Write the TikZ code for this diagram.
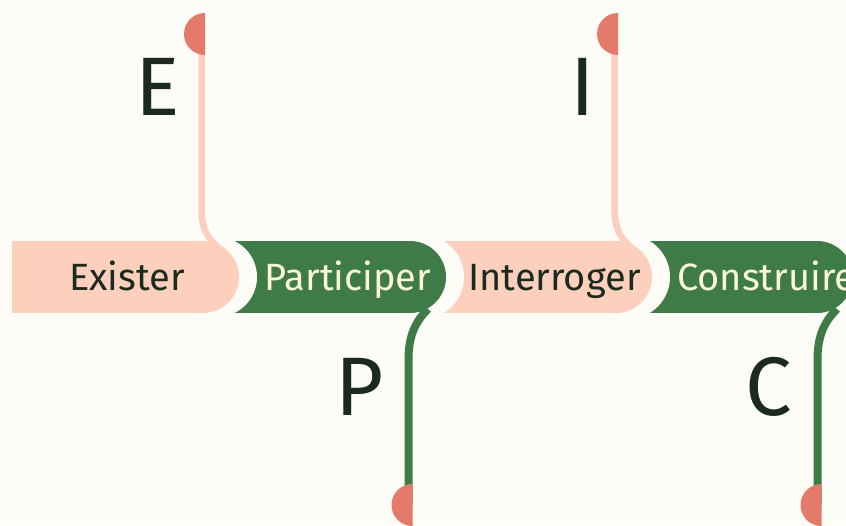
\documentclass[tikz,border=0pt]{standalone}
\usepackage{fontspec}
\setmainfont{Fira Sans}
\definecolor{bg}{HTML}{FEFCF6}
\definecolor{peach}{HTML}{FDD0BE}
\definecolor{leaf}{HTML}{3F7B47}
\definecolor{coral}{HTML}{E47A6A}
\definecolor{ink}{HTML}{1B2A1E}
\definecolor{cream}{HTML}{FBF6D8}
\begin{document}
\begin{tikzpicture}[x=1pt,y=-1pt,
  seglabel/.style={anchor=base, inner sep=0pt, font=\fontsize{38}{42}\selectfont},
  biglabel/.style={anchor=base, inner sep=0pt, text=ink, font=\fontsize{83}{90}\selectfont},
  gapdisc/.style={fill=bg},
  peachline/.style={draw=peach, line width=6.5pt},
  leafline/.style={draw=leaf, line width=8pt}]
\fill[bg] (0,0) rectangle (846,525);
\useasboundingbox (0,0) rectangle (846,525);
\clip (0,0) rectangle (846,525);
% Construire
\fill[leaf] (600,241) rectangle (817,313);
\fill[leaf] (817,277) circle[radius=36];
\fill[gapdisc] (628,277) circle[radius=42];
% Interroger
\fill[peach] (400,241) rectangle (616,313);
\fill[peach] (616,277) circle[radius=36];
\fill[gapdisc] (422,277) circle[radius=42];
% Participer
\fill[leaf] (200,241) rectangle (410,313);
\fill[leaf] (410,277) circle[radius=36];
\fill[gapdisc] (217,277) circle[radius=40];
% Exister
\fill[peach] (12,241) rectangle (203,313);
\fill[peach] (203,277) circle[radius=36];
% connectors
\coordinate (eTop) at (201.5,34);
\coordinate (eJoin) at (219,248);
\coordinate (iTop) at (614.5,34);
\coordinate (iJoin) at (632,248);
\coordinate (pBot) at (408.5,505);
\coordinate (pJoin) at (428,309);
\coordinate (cBot) at (817.5,505);
\coordinate (cJoin) at (837,309);
\draw[peachline] (eTop) -- (201.5,208) .. controls (201.5,228) and (207,238) .. (eJoin);
\draw[peachline] (iTop) -- (614.5,208) .. controls (614.5,228) and (620,238) .. (iJoin);
\draw[leafline] (pBot) -- (408.5,360) .. controls (408.5,336) and (415,322) .. (pJoin);
\draw[leafline] (cBot) -- (817.5,360) .. controls (817.5,336) and (824,322) .. (cJoin);
% end caps (half discs)
\begin{scope}\clip (170,0) rectangle (205,70); \fill[coral] (205,34) circle[radius=21]; \end{scope}
\begin{scope}\clip (583,0) rectangle (618,70); \fill[coral] (618,34) circle[radius=21]; \end{scope}
\begin{scope}\clip (375,470) rectangle (412.5,525); \fill[coral] (412.5,505) circle[radius=21]; \end{scope}
\begin{scope}\clip (784,470) rectangle (821.5,525); \fill[coral] (821.5,505) circle[radius=21]; \end{scope}
% segment labels
\node[seglabel, text=ink] (exister) at (127,290) {Exister};
\node[seglabel, text=cream] (participer) at (348,290) {Participer};
\node[seglabel, text=ink] (interroger) at (554.5,290) {Interroger};
\node[seglabel, text=cream, anchor=base west] (construire) at (677,290) {Construire};
% big letters
\node[biglabel] (lE) at (158,115) {E};
\node[biglabel] (lI) at (583,115) {I};
\node[biglabel] (lP) at (360,415) {P};
\node[biglabel] (lC) at (769,415) {C};
\end{tikzpicture}
\end{document}
